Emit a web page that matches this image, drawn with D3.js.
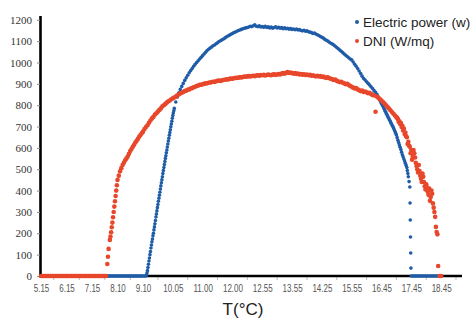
<!DOCTYPE html>
<html><head><meta charset="utf-8">
<script src="https://cdn.jsdelivr.net/npm/d3@7"></script>
<style>body{margin:0;background:#fff}svg{display:block}</style>
</head><body>
<script>
// ---- data ----
const timeLabels = ["5.15","6.15","7.15","8.10","9.10","10.05","11.00","12.00","12.55","13.55","14.25","15.55","16.45","17.45","18.45"];
const yTickValues = [0,100,200,300,400,500,600,700,800,900,1000,1100,1200];
const seriesNames = ["Electric power (w)","DNI (W/mq)"];
const samplesPerLabel = 20;

// Electric power (w), one value per sample
const powerValues = [
0,0,0,0,0,0,0,0,0,0,0,0,0,0,0,0,0,0,0,0,
0,0,0,0,0,0,0,0,0,0,0,0,0,0,0,0,0,0,0,0,
0,0,0,0,0,0,0,0,0,0,0,0,0,0,0,0,0,0,0,0,
0,0,0,0,0,0,0,0,0,0,0,0,0,0,0,0,0,0,0,0,
0,0,0,
25,70,115,160,200,245,290,335,378,422,465,508,550,590,632,672,712,752,
785,815,838,858,874,888,902,916,928,940,952,962,972,982,992,1000,1008,1016,1024,1032,
1040,1048,1056,1062,1068,1072,1078,1082,1088,1092,1098,1102,1106,1110,1115,1120,1124,1128,1132,1136,
1140,1143,1146,1150,1152,1155,1158,1160,1162,1164,1166,1170,1168,1172,1176,1170,1168,1172,1166,1168,
1165,1170,1164,1167,1162,1166,1160,1164,1167,1162,1165,1160,1163,1158,1162,1158,1160,1156,1159,1155,
1157,1153,1156,1152,1154,1150,1148,1151,1146,1148,1144,1142,1140,1136,1138,1133,1130,1126,1122,1118,
1114,1108,1104,1100,1095,1090,1086,1082,1076,1070,1064,1058,1052,1046,1040,1034,1028,1022,1016,1012,
1002,992,982,972,960,948,936,925,918,910,902,894,886,878,868,860,850,835,822,808,
795,780,765,750,736,722,708,694,678,660,636,614,592,568,548,528,508,465,417,
0,0,0,0,0,0,0,0,0,0,0,0,0,0,0,0,0,0,0,0,0
];
// extra power readings where the curve is steep (fractional sample positions)
const powerExtraIndex = [
82.33,82.67,83.33,83.67,84.33,84.67,85.33,85.67,86.33,86.67,87.33,87.67,88.33,88.67,89.33,89.67,
90.33,90.67,91.33,91.67,92.33,92.67,93.33,93.67,94.33,94.67,95.33,95.67,96.33,96.67,97.33,97.67,
98.33,98.67,99.33,99.67,100.33,100.67,
237.5,238.5,239.5,240.5,241.5,242.5,243.5,244.5,245.5,246.5,247.5,248.5,249.5,250.5,251.5,252.5,
253.5,254.5,255.5,256.5,257.33,257.67,258.5,
259.15,259.3,259.45,259.6,259.75];
const powerExtraValues = [
5,14,40,55,84,100,131,145,173,188,216,230,260,276,305,320,
350,364,392,407,437,451,480,494,522,536,563,577,604,618,645,659,
685,699,725,739,763,774,
842,828,815,801,787,772,757,743,729,715,701,686,669,648,625,603,
580,558,538,518,494,480,442,
342,262,183,108,37];

// DNI (W/mq), one value per sample
const dniValues = [
0,0,0,0,0,0,0,0,0,0,0,0,0,0,0,0,0,0,0,0,
0,0,0,0,0,0,0,0,0,0,0,0,0,0,0,0,0,0,0,0,
0,0,0,0,0,0,0,0,0,0,0,0,
56,127,169,205,250,300,350,400,450,
470,490,505,520,530,542,550,560,572,585,595,605,615,625,633,642,652,660,668,676,
688,698,706,718,728,738,745,756,762,770,778,785,795,800,806,812,818,822,828,832,
836,840,846,850,855,858,862,866,868,872,874,878,880,884,886,890,892,895,896,898,
900,902,903,905,906,908,910,909,912,914,915,913,917,918,919,921,920,923,925,924,
926,928,927,929,931,930,932,934,933,935,936,934,937,938,936,939,940,938,941,940,
942,939,941,943,941,940,943,945,942,944,946,944,948,950,947,952,955,951,953,950,
948,950,946,948,944,946,943,945,941,943,940,942,938,940,937,935,938,934,936,932,
934,930,928,931,926,924,921,918,920,914,911,908,910,905,902,898,900,895,890,886,
882,878,880,874,870,866,868,862,864,860,856,858,852,848,845,769,840,834,828,822,
815,808,800,792,784,776,768,760,752,744,735,725,716,704,690,672,650,628,605,590,
560,575,530,500,520,470,440,465,420,430,395,410,370,385,320,277,206,47,0,0
];
// extra DNI readings where the curve is steep or scattered
const dniExtraIndex = [
52.5,54.5,55.5,56.5,57.5,58.5,59.5,
250.5,251.5,252.5,253.5,254.5,255.5,256.5,257.5,258.5,259.5,260.5,261.5,262.5,263.5,
264.5,265.5,266.5,267.5,268.5,269.5,270.5,271.5,272.5,273.5,274.5,275.5,276.5,277.5];
const dniExtraValues = [
90,185,228,275,325,375,425,
740,722,712,698,682,665,655,618,610,575,545,590,555,515,
485,492,455,480,440,405,415,380,352,400,340,300,230,195];

// ---- layout ----
const W = 473, H = 320;
const blue = "#1f5ca8", red = "#e8472b";
const svg = d3.select("body").append("svg").attr("width", W).attr("height", H);

const x = d3.scaleLinear().domain([0, 80, 294]).range([41, 143, 462]);
const y = d3.scaleLinear().domain([0, 1220]).range([276, 15.5]);

const labelIdx = timeLabels.map((d, i) => i * samplesPerLabel);

// y axis
const ya = svg.append("g").attr("transform", "translate(40,0)")
  .call(d3.axisLeft(y).tickValues(yTickValues).tickFormat(d3.format("d"))
    .tickSize(3).tickSizeOuter(0).tickPadding(5));
ya.select(".domain").attr("stroke", "#000").attr("stroke-width", 2.6);
ya.selectAll(".tick line").attr("stroke", "#888");
ya.selectAll("text")
  .style("font-family", "'Liberation Serif', 'DejaVu Serif', serif")
  .style("font-size", "11px").attr("fill", "#333");

// x axis
const xa = svg.append("g").attr("transform", "translate(0,276)")
  .call(d3.axisBottom(x).tickValues(labelIdx).tickFormat((d, i) => timeLabels[i]).tickSize(0).tickPadding(9));
xa.select(".domain").remove();
xa.selectAll("text")
  .style("font-family", "'Liberation Sans', Arial, sans-serif")
  .style("font-size", "10px").attr("fill", "#555")
  .each(function () {
    const w = this.getComputedTextLength();
    d3.select(this).attr("textLength", w * 0.8).attr("lengthAdjust", "spacingAndGlyphs");
  });
svg.append("g").selectAll("line")
  .data(labelIdx.map(d => d + samplesPerLabel / 2))
  .join("line")
  .attr("x1", d => x(d)).attr("x2", d => x(d))
  .attr("y1", 277).attr("y2", 280).attr("stroke", "#bbb");
svg.append("line").attr("x1", 39).attr("x2", 462).attr("y1", 276).attr("y2", 276)
  .attr("stroke", "#000").attr("stroke-width", 2.6);

// axis title
svg.append("text").attr("x", 243).attr("y", 315).attr("text-anchor", "middle")
  .style("font-family", "'Liberation Sans', Arial, sans-serif").style("font-size", "17px")
  .attr("fill", "#222").text("T(°C)");

// series points
const powerPts = powerValues.map((v, i) => [i, v])
  .concat(powerExtraIndex.map((d, i) => [d, powerExtraValues[i]]));
const dniPts = dniValues.map((v, i) => [i, v])
  .concat(dniExtraIndex.map((d, i) => [d, dniExtraValues[i]]));

svg.append("g").selectAll("circle").data(powerPts).join("circle")
  .attr("cx", d => x(d[0])).attr("cy", d => y(d[1])).attr("r", 1.8).attr("fill", blue);
svg.append("g").selectAll("circle").data(dniPts).join("circle")
  .attr("cx", d => x(d[0])).attr("cy", d => y(d[1])).attr("r", 2.3).attr("fill", red);

// legend
const lg = svg.append("g");
[blue, red].forEach((c, i) => {
  lg.append("circle").attr("cx", 357).attr("cy", 22 + i * 19).attr("r", 2).attr("fill", c);
  lg.append("text").attr("x", 363).attr("y", 26.5 + i * 19)
    .style("font-family", "'Liberation Sans', Arial, sans-serif").style("font-size", "13.5px")
    .attr("fill", "#222").text(seriesNames[i]);
});
</script>
</body></html>
